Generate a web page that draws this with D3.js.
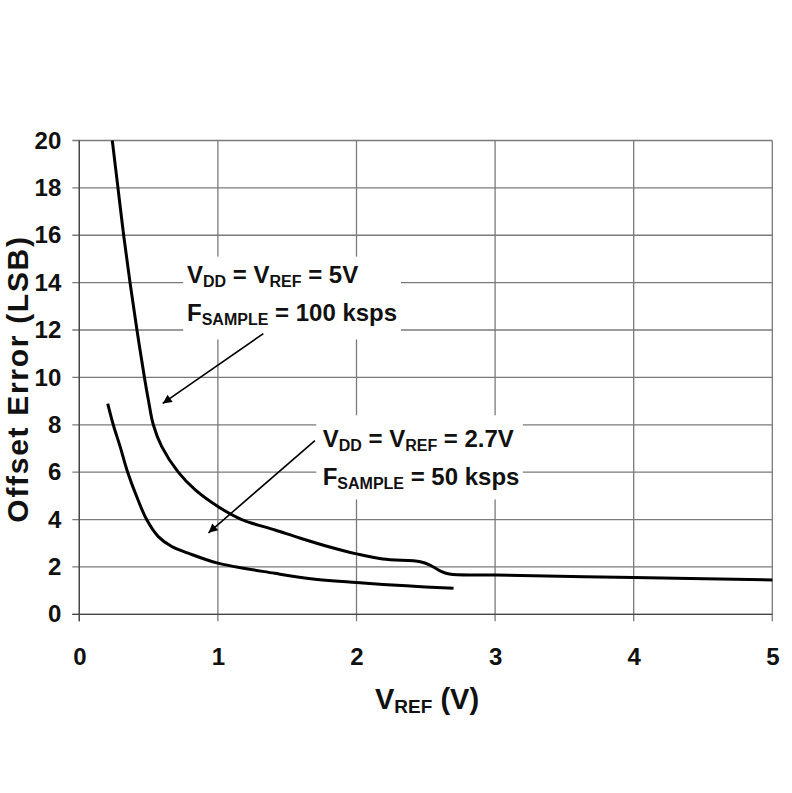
<!DOCTYPE html>
<html><head><meta charset="utf-8">
<script src="https://cdn.jsdelivr.net/npm/d3@7"></script>
<style>
html,body{margin:0;padding:0;background:#fff;}
svg{display:block;font-family:"Liberation Sans",Arial,sans-serif;}
</style></head>
<body>
<svg id="chart" width="792" height="793"></svg>
<script>
// ---- data ----
const xTicks = [0, 1, 2, 3, 4, 5];
const yTicks = [0, 2, 4, 6, 8, 10, 12, 14, 16, 18, 20];
// VDD = VREF = 5V, FSAMPLE = 100 ksps
const vref5V = [0.238,0.279,0.32,0.366,0.416,0.47,0.498,0.534,0.594,0.714,0.835,1.0,1.172,1.412,1.59,1.8,2.0,2.19,2.46,2.53,2.6,2.67,3.0,4.0,5.0];
const err5V  = [20,18,16,14,12,10,9.06,8,7.09,6.0,5.26,4.55,4.0,3.56,3.22,2.85,2.55,2.33,2.22,2.08,1.84,1.70,1.66,1.55,1.45];
// VDD = VREF = 2.7V, FSAMPLE = 50 ksps
const vref27V = [0.205,0.245,0.294,0.349,0.414,0.486,0.57,0.667,0.786,1.0,1.41,1.67,2.0,2.36,2.70];
const err27V  = [8.89,8,7.09,6,4.97,4,3.28,2.86,2.58,2.16,1.73,1.5,1.34,1.2,1.10];

// annotations (data coordinates)
const notes = [
  {x: 0.777, y1: 14.0, y2: 12.4, l1: ["V","DD"," = V","REF"," = 5V"], l2: ["F","SAMPLE"," = 100 ksps"],
   box: [0.75, 15.1, 2.32, 11.6], arrow: [1.328, 11.85, 0.602, 8.9]},
  {x: 1.756, y1: 7.07, y2: 5.47, l1: ["V","DD"," = V","REF"," = 2.7V"], l2: ["F","SAMPLE"," = 50 ksps"],
   box: [1.71, 8.4, 3.2, 4.85], arrow: [1.70, 7.33, 0.932, 3.44]}
];

// ---- chart ----
const svg = d3.select("#chart");
const x = d3.scaleLinear().domain([0, 5]).range([79.3, 772.3]);
const y = d3.scaleLinear().domain([0, 20]).range([614.3, 140.5]);
const gridColor = "#7a7a7a";

// grid horizontal (with 7px outward ticks)
svg.append("g").selectAll("line").data(yTicks).join("line")
  .attr("x1", x(0) - 7).attr("x2", x(5))
  .attr("y1", d => y(d)).attr("y2", d => y(d))
  .attr("stroke", gridColor).attr("stroke-width", 1.3);
// grid vertical
svg.append("g").selectAll("line").data(xTicks).join("line")
  .attr("x1", d => x(d)).attr("x2", d => x(d))
  .attr("y1", y(20)).attr("y2", y(0) + 7)
  .attr("stroke", gridColor).attr("stroke-width", 1.3);
// axis lines darker
svg.append("line").attr("x1", x(0)).attr("x2", x(0)).attr("y1", y(20)).attr("y2", y(0)+7)
  .attr("stroke", "#444").attr("stroke-width", 1.3);
svg.append("line").attr("x1", x(0)-7).attr("x2", x(5)).attr("y1", y(0)).attr("y2", y(0))
  .attr("stroke", "#444").attr("stroke-width", 1.3);

// tick labels via axes
const yAxis = d3.axisLeft(y).tickValues(yTicks).tickSize(0).tickPadding(18).tickFormat(d3.format("d"));
const ya = svg.append("g").attr("transform", `translate(${x(0)},0)`).call(yAxis);
ya.select(".domain").remove();
ya.selectAll("text").attr("font-size", 24).attr("font-weight", "bold").attr("fill", "#111")
  .attr("font-family", "Liberation Sans, Arial, sans-serif");
const xAxis = d3.axisBottom(x).tickValues(xTicks).tickSize(0).tickPadding(34).tickFormat(d3.format("d"));
const xa = svg.append("g").attr("transform", `translate(0,${y(0)})`).call(xAxis);
xa.select(".domain").remove();
xa.selectAll("text").attr("font-size", 24).attr("font-weight", "bold").attr("fill", "#111")
  .attr("font-family", "Liberation Sans, Arial, sans-serif");

// annotation boxes
notes.forEach(n => {
  svg.append("rect")
    .attr("x", x(n.box[0])).attr("y", y(n.box[1]))
    .attr("width", x(n.box[2]) - x(n.box[0])).attr("height", y(n.box[3]) - y(n.box[1]))
    .attr("fill", "#fff");
});

// curves
const line = d3.line().x(d => x(d[0])).y(d => y(d[1])).curve(d3.curveCatmullRom.alpha(0.5));
const s1 = vref5V.map((v, i) => [v, err5V[i]]);
const s2 = vref27V.map((v, i) => [v, err27V[i]]);
[s1, s2].forEach(s => {
  svg.append("path").datum(s).attr("d", line)
    .attr("fill", "none").attr("stroke", "#000").attr("stroke-width", 3)
    .attr("stroke-linejoin", "round");
});

// arrows
svg.append("defs").append("marker").attr("id", "ah")
  .attr("viewBox", "0 0 10 10").attr("refX", 10).attr("refY", 5)
  .attr("markerWidth", 12).attr("markerHeight", 9).attr("markerUnits", "userSpaceOnUse")
  .attr("orient", "auto")
  .append("path").attr("d", "M0,0 L10,5 L0,10 Z").attr("fill", "#000");
notes.forEach(n => {
  svg.append("line")
    .attr("x1", x(n.arrow[0])).attr("y1", y(n.arrow[1]))
    .attr("x2", x(n.arrow[2])).attr("y2", y(n.arrow[3]))
    .attr("stroke", "#000").attr("stroke-width", 1.6).attr("marker-end", "url(#ah)");
});

// annotation texts
function richLine(parent, px, py, parts) {
  const t = parent.append("text").attr("x", px).attr("y", py)
    .attr("font-weight", "bold").attr("fill", "#111").attr("font-size", 24);
  parts.forEach((p, i) => {
    const sub = i % 2 === 1;
    t.append("tspan").text(p)
      .attr("font-size", sub ? 16 : 24)
      .attr("dy", sub ? 4 : (i === 0 ? 0 : -4));
  });
  return t;
}
notes.forEach(n => {
  richLine(svg, x(n.x), y(n.y1), n.l1);
  richLine(svg, x(n.x), y(n.y2), n.l2);
});

// axis titles
const xt = svg.append("text").attr("x", 375).attr("y", 709)
  .attr("font-weight", "bold").attr("fill", "#111").attr("font-size", 29);
xt.append("tspan").text("V");
xt.append("tspan").text("REF").attr("font-size", 19).attr("dy", 4);
xt.append("tspan").text(" (V)").attr("dy", -4);

svg.append("text")
  .attr("transform", `translate(28,379) rotate(-90)`)
  .attr("text-anchor", "middle")
  .attr("font-weight", "bold").attr("fill", "#111").attr("font-size", 30)
  .attr("letter-spacing", 1.7)
  .text("Offset Error (LSB)");
</script>
</body></html>
